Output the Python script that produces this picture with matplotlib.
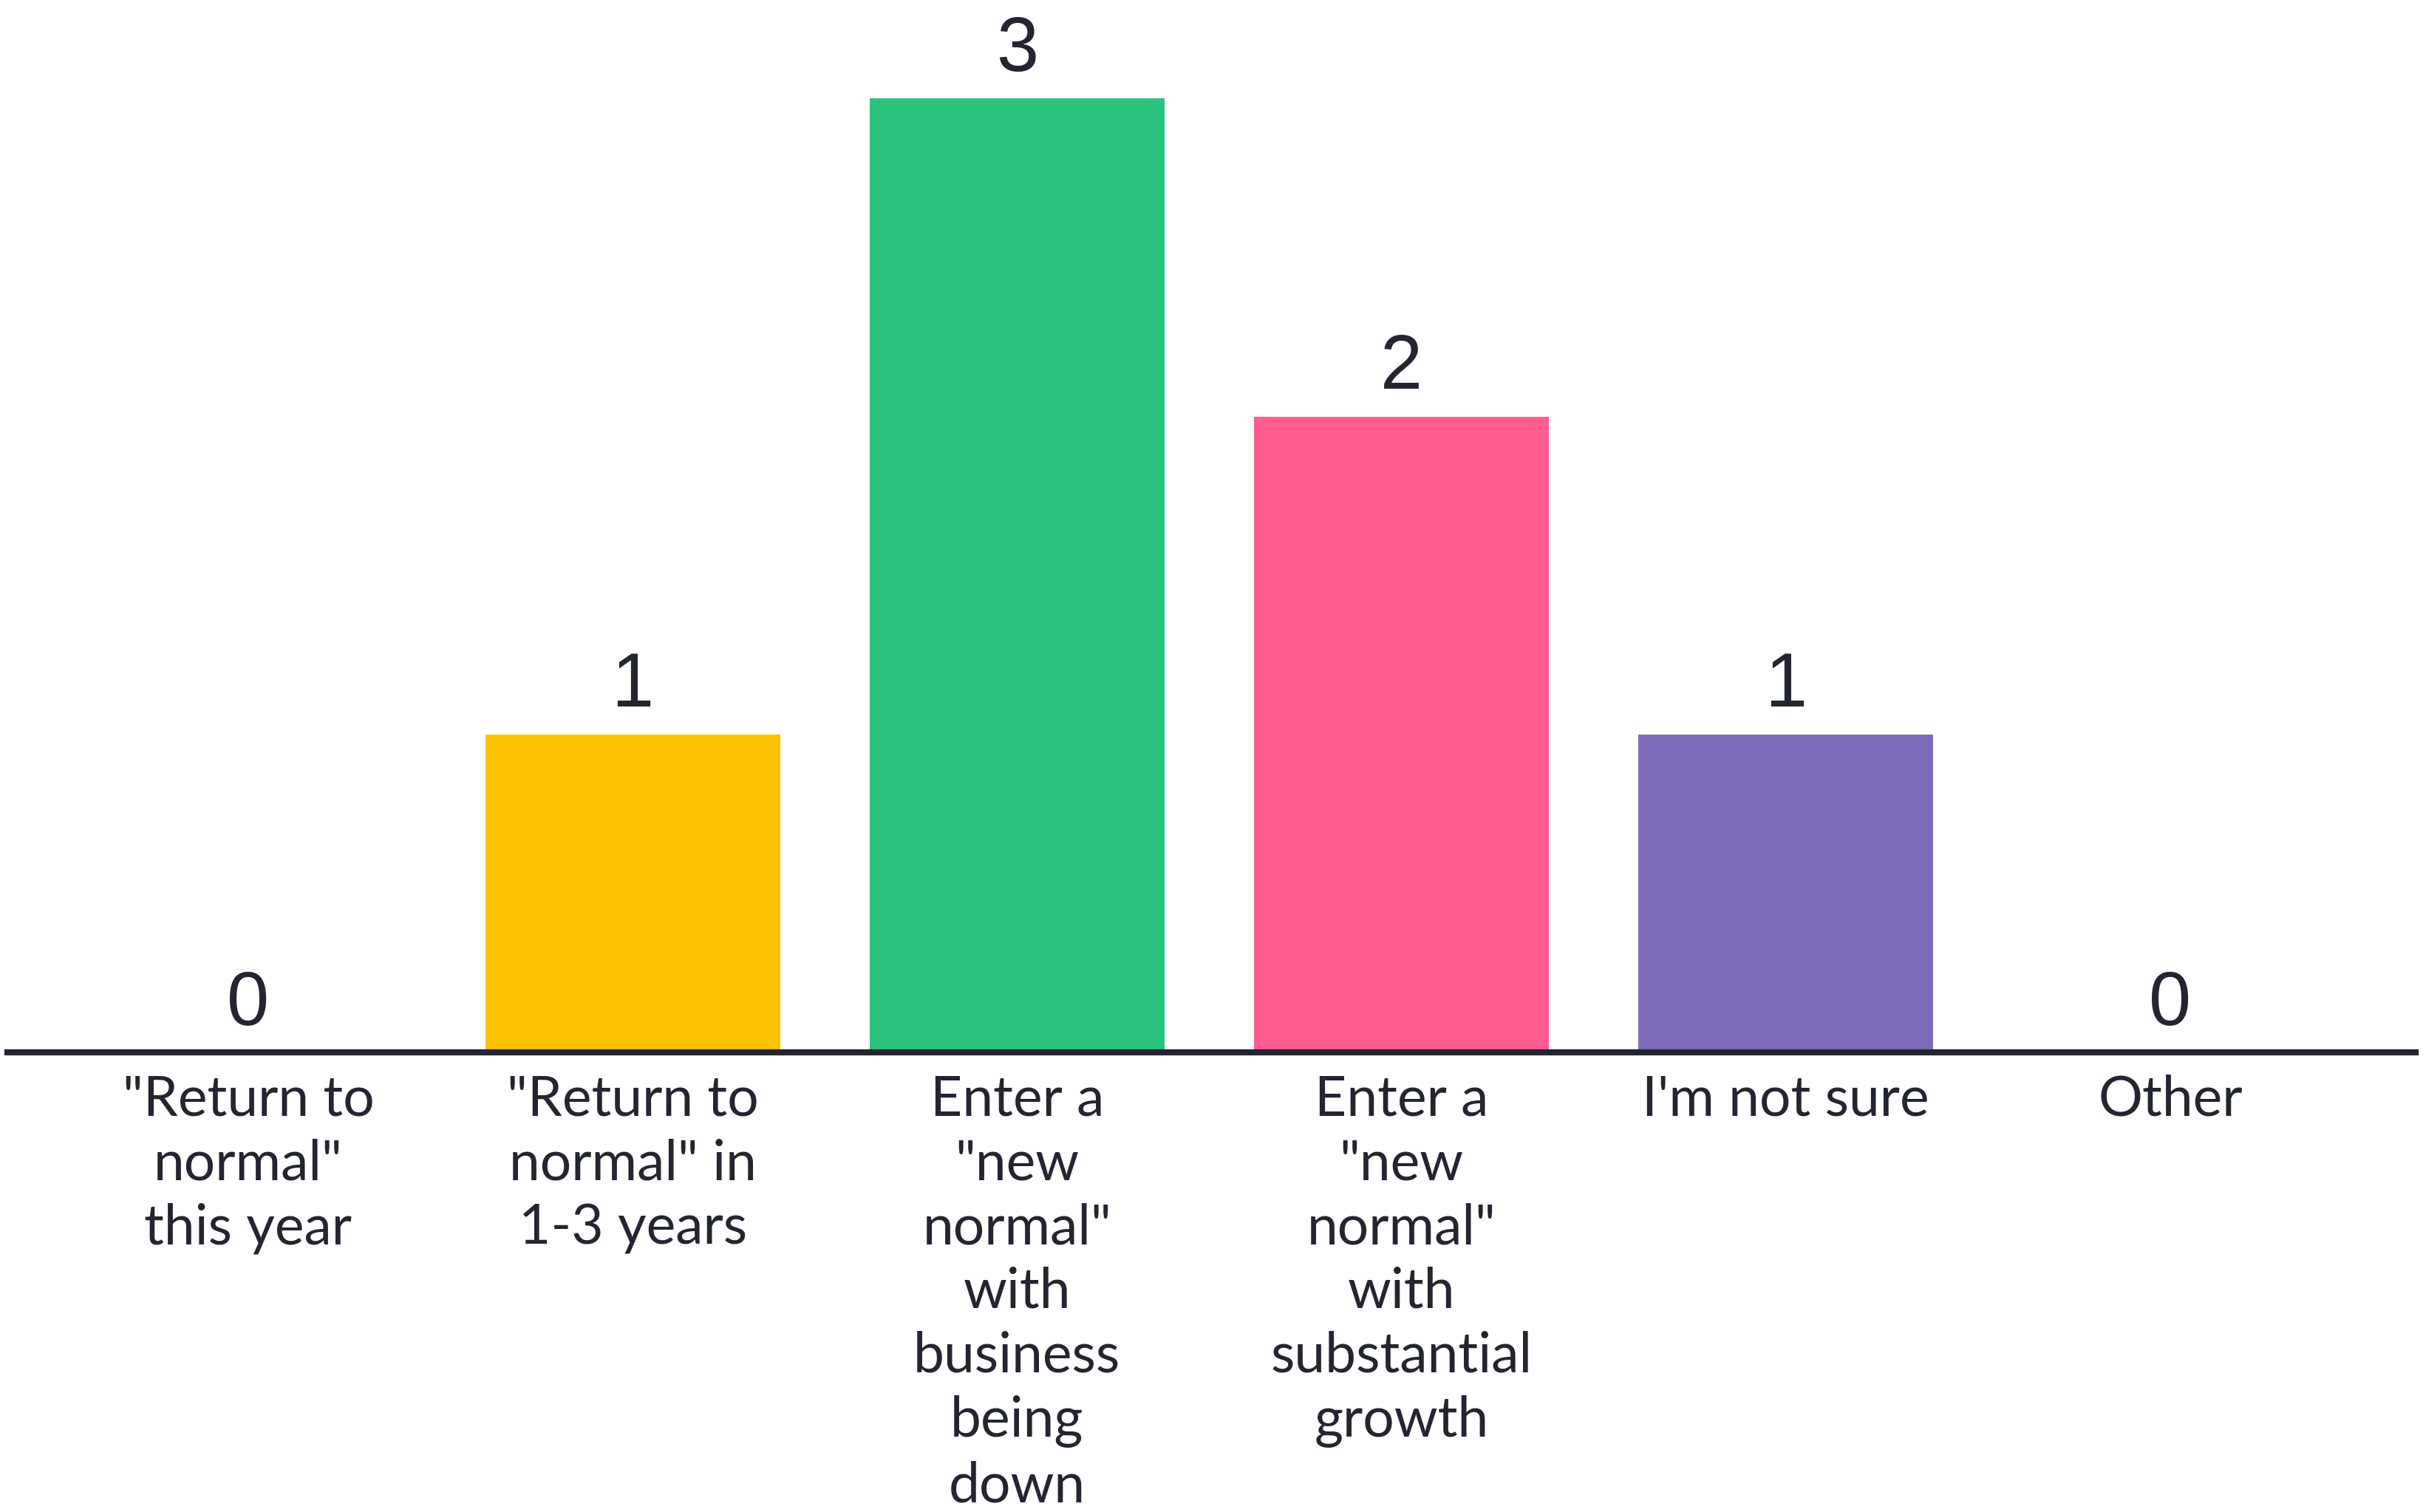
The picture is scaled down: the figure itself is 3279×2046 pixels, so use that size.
#!/usr/bin/env python3
"""Bar chart of expectations for business recovery (poll results)."""
import matplotlib
matplotlib.use("Agg")
import matplotlib.pyplot as plt

categories = [
    '"Return to\nnormal"\nthis year',
    '"Return to\nnormal" in\n1-3 years',
    'Enter a\n"new\nnormal"\nwith\nbusiness\nbeing\ndown',
    'Enter a\n"new\nnormal"\nwith\nsubstantial\ngrowth',
    "I'm not sure",
    "Other",
]
counts = [0, 1, 3, 2, 1, 0]
colors = ["#FDC300", "#FDC300", "#2AC47F", "#FF5C8F", "#7F6BBB", "#7F6BBB"]

INK = "#232630"

fig = plt.figure(figsize=(32.79, 20.46), dpi=100)
ax = fig.add_axes([0.003, 0.304, 0.994, 0.696])

x = list(range(len(categories)))
ax.bar(x, counts, width=0.767, color=colors, zorder=2)

for xi, v in zip(x, counts):
    ax.annotate(str(v), xy=(xi, v), xytext=(0, 27), textcoords="offset points",
                ha="center", va="baseline", fontsize=74, color=INK,
                family="Liberation Sans")

ax.set_xlim(-0.627, 5.639)
ax.set_ylim(0, 3.31)
ax.set_yticks([])
ax.set_xticks(x)
ax.set_xticklabels(categories, fontsize=54, color=INK, family="Lato",
                   linespacing=1.32)
ax.tick_params(axis="x", length=0, pad=21)

for s in ["top", "right", "left"]:
    ax.spines[s].set_visible(False)
ax.spines["bottom"].set_color(INK)
ax.spines["bottom"].set_linewidth(6)
ax.spines["bottom"].set_zorder(3)

fig.savefig("out.png", dpi=100, facecolor="white")
